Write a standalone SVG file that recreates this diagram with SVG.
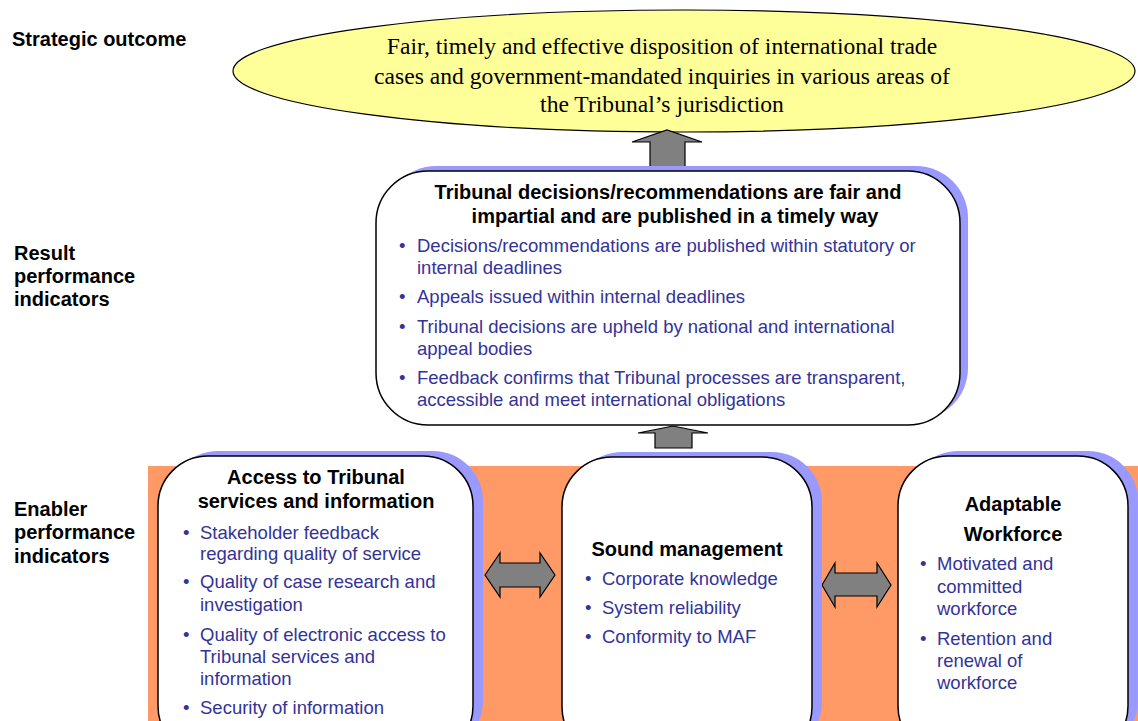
<svg xmlns="http://www.w3.org/2000/svg" width="1138" height="721" viewBox="0 0 1138 721">
<style>
.lbl{font-family:"Liberation Sans",Arial,sans-serif;font-weight:bold;font-size:20px;fill:#000}
.ttl{font-family:"Liberation Sans",Arial,sans-serif;font-weight:bold;font-size:20px;fill:#000;text-anchor:middle}
.bl{font-family:"Liberation Sans",Arial,sans-serif;font-size:18.5px;fill:#333399}
.ser{font-family:"Liberation Serif","Times New Roman",serif;font-size:23.6px;fill:#000;text-anchor:middle}
.box{fill:#fff;stroke:#000;stroke-width:1.5}
.shd{fill:#9999ff}
.arr{fill:#808080;stroke:#000;stroke-width:1.2}
</style>
<rect width="1138" height="721" fill="#fff"/>
<rect x="148" y="466" width="990" height="255" fill="#ff9966"/>

<g id="labels">
<text class="lbl" x="12" y="46">Strategic outcome</text>
<text class="lbl" x="14" y="260">Result</text>
<text class="lbl" x="14" y="283">performance</text>
<text class="lbl" x="14" y="306">indicators</text>
<text class="lbl" x="14" y="516">Enabler</text>
<text class="lbl" x="14" y="539">performance</text>
<text class="lbl" x="14" y="563">indicators</text>
</g>

<g id="outcome">
<ellipse cx="684" cy="71" rx="451" ry="61" fill="#ffff99" stroke="#000" stroke-width="1.2"/>
<text class="ser" x="662" y="54">Fair, timely and effective disposition of international trade</text>
<text class="ser" x="662" y="84">cases and government-mandated inquiries in various areas of</text>
<text class="ser" x="662" y="112">the Tribunal’s jurisdiction</text>
</g>

<g id="connectors">
<path class="arr" d="M650,174 L650,142 L632,142 L667,130 L702,142 L685,142 L685,174 Z"/>
<path class="arr" d="M655,448 L655,433 L638,433 L673,426 L708,433 L692,433 L692,448 Z"/>
<path class="arr" d="M485,575 L500,553 L500,563 L540,563 L540,553 L555,575 L540,597 L540,587 L500,587 L500,597 Z"/>
<path class="arr" d="M822,585 L835,563 L835,573 L877,573 L877,563 L891,585 L877,607 L877,596 L835,596 L835,607 Z"/>
</g>

<g id="result">
<rect class="shd" x="384" y="166" width="584" height="254" rx="52"/>
<rect class="box" x="376" y="171" width="584" height="254" rx="52"/>
<text class="ttl" x="668" y="199">Tribunal decisions/recommendations are fair and</text>
<text class="ttl" x="675" y="223">impartial and are published in a timely way</text>
<g class="bl">
<text x="399" y="252">•</text><text x="417" y="252">Decisions/recommendations are published within statutory or</text>
<text x="417" y="274">internal deadlines</text>
<text x="399" y="303">•</text><text x="417" y="303">Appeals issued within internal deadlines</text>
<text x="399" y="333">•</text><text x="417" y="333">Tribunal decisions are upheld by national and international</text>
<text x="417" y="355">appeal bodies</text>
<text x="399" y="384">•</text><text x="417" y="384">Feedback confirms that Tribunal processes are transparent,</text>
<text x="417" y="406">accessible and meet international obligations</text>
</g>
</g>

<g id="access">
<rect class="shd" x="168" y="451" width="315" height="300" rx="50"/>
<rect class="box" x="158" y="456" width="315" height="300" rx="50"/>
<text class="ttl" x="316" y="484">Access to Tribunal</text>
<text class="ttl" x="316" y="508">services and information</text>
<g class="bl">
<text x="183" y="539">•</text><text x="200" y="539">Stakeholder feedback</text>
<text x="200" y="560">regarding quality of service</text>
<text x="183" y="588">•</text><text x="200" y="588">Quality of case research and</text>
<text x="200" y="611">investigation</text>
<text x="183" y="641">•</text><text x="200" y="641">Quality of electronic access to</text>
<text x="200" y="663">Tribunal services and</text>
<text x="200" y="685">information</text>
<text x="183" y="714">•</text><text x="200" y="714">Security of information</text>
</g>
</g>

<g id="sound">
<rect class="shd" x="572" y="452" width="250" height="300" rx="50"/>
<rect class="box" x="562" y="457" width="250" height="300" rx="50"/>
<text class="ttl" x="687" y="556">Sound management</text>
<g class="bl">
<text x="585" y="585">•</text><text x="602" y="585">Corporate knowledge</text>
<text x="585" y="614">•</text><text x="602" y="614">System reliability</text>
<text x="585" y="643">•</text><text x="602" y="643">Conformity to MAF</text>
</g>
</g>

<g id="workforce">
<rect class="shd" x="908" y="451" width="230" height="300" rx="50"/>
<rect class="box" x="898" y="456" width="230" height="300" rx="50"/>
<text class="ttl" x="1013" y="511">Adaptable</text>
<text class="ttl" x="1013" y="541">Workforce</text>
<g class="bl">
<text x="920" y="570">•</text><text x="937" y="570">Motivated and</text>
<text x="937" y="593">committed</text>
<text x="937" y="615">workforce</text>
<text x="920" y="645">•</text><text x="937" y="645">Retention and</text>
<text x="937" y="667">renewal of</text>
<text x="937" y="689">workforce</text>
</g>
</g>
</svg>
